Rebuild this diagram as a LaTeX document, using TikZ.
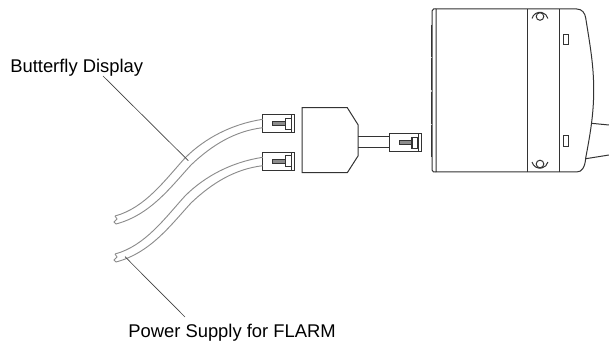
\documentclass[tikz,border=0pt]{standalone}
\usepackage{fontspec}
\setmainfont{Liberation Sans}
\tikzset{
  dev/.style={draw=black!80,line width=0.75pt},
  wire/.style={draw=black!45,line width=0.7pt},
  leader/.style={draw=black!75,line width=0.5pt},
  plug/.style={draw=black!80,line width=0.8pt},
  lab/.style={inner sep=0pt,font=\fontsize{13.8pt}{16pt}\selectfont}
}
\newcommand{\plugat}[2]{%
  \begin{scope}[shift={(#1,#2)}]
    \draw[plug] (0,0) rectangle (32,18);
    \draw[plug,line width=0.6pt] (28.5,0) -- (28.5,18);
    \draw[plug,fill=black!45,line width=0.5pt] (10,7) rectangle (22.5,11);
    \draw[plug,line width=0.8pt] (22.5,3.5) -- (28.5,3.5) -- (28.5,14.5) -- (22.5,14.5) -- cycle;
  \end{scope}}
\newcommand{\wireat}[1]{%
  \begin{scope}[yshift=#1*-0.75pt]
    \draw[wire] (262.7,119.3) .. controls (232,124) and (205,138) .. (185,158)
       .. controls (165,180) and (145,208) .. (115,216);
    \draw[wire] (262.7,127.7) .. controls (235,131) and (212,145) .. (191,165)
       .. controls (170,188) and (150,215) .. (116,224);
    \draw[wire] (115,216) -- (117,219) -- (114,222) -- (116,224);
  \end{scope}}
\begin{document}
\begin{tikzpicture}[x=0.75pt,y=-0.75pt]
\useasboundingbox (0,0) rectangle (609,341);
% device
\draw[dev] (436,9) -- (576.7,9) .. controls (582,9) and (585,13) .. (585.7,18)
  .. controls (590,45) and (593.7,65) .. (593.7,90)
  .. controls (593.7,115) and (590,135) .. (585.7,158)
  .. controls (585,167) and (582,172) .. (576.7,172) -- (436,172) -- cycle;
\draw[dev] (436,9) -- (433.5,9) -- (432,11) -- (432,170) -- (433.5,172) -- (436,172);
\draw[dev,line width=1.2pt,dash pattern=on 24pt off 1pt] (431.5,25) -- (431.5,158);
\draw[dev] (527.3,9) -- (527.3,172);
\draw[dev] (559,9) -- (559,172);
\draw[dev] (563.5,34.3) rectangle (568.3,45);
\draw[dev] (563.5,135.5) rectangle (568.3,146.7);
\draw[dev] (540,16.5) circle (3.8);
\draw[dev] (540,164) circle (3.8);
\draw[dev] (532,18.5) arc (194:346:8.2);
\draw[dev] (532,162) arc (166:14:8.2);
\coordinate (ca) at (591.3,123.3);
\coordinate (cb) at (585.9,158.7);
\coordinate (ea) at (609,125);
\coordinate (eb) at (609,155);
\draw[dev] (ca) -- (ea);
\draw[dev] (cb) -- (eb);
% adapter
\draw[dev] (302,107.7) -- (347.3,107.7) -- (358,124.7) -- (358,156) -- (347.3,172.7) -- (302,172.7) -- cycle;
\draw[dev] (358,136.5) -- (389.5,136.5);
\draw[dev] (358,147.3) -- (389.5,147.3);
\plugat{262.7}{114.7}
\plugat{262.7}{152.3}
\plugat{389.5}{133.7}
% wires
\wireat{0}
\wireat{38}
% labels
\node[lab,anchor=base west] (bd) at (10,73) {Butterfly Display};
\node[lab,anchor=base west] (ps) at (128,337) {Power Supply for FLARM};
\coordinate (bs) at (103,76);
\coordinate (bt) at (188.3,160.7);
\coordinate (pt) at (125,256.7);
\coordinate (pe) at (185,317);
\draw[leader] (bs) -- (bt);
\draw[leader] (pt) -- (pe);
\end{tikzpicture}
\end{document}
